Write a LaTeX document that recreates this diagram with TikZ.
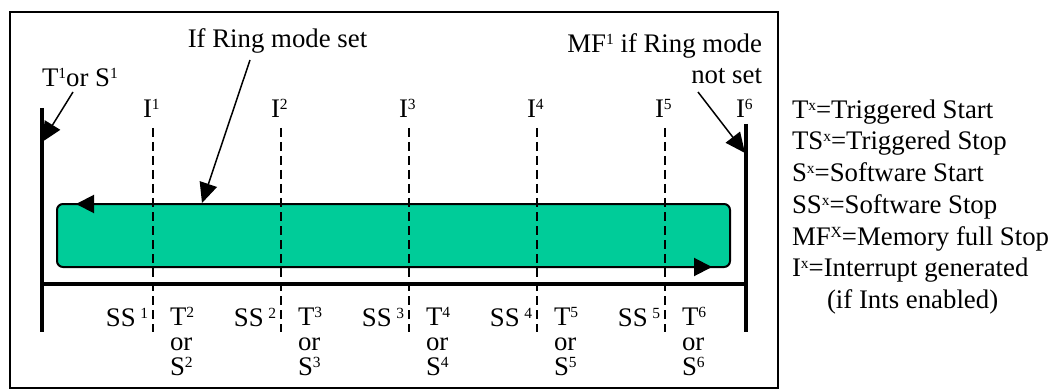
\documentclass[tikz,border=0pt]{standalone}
\usepackage{fontspec}
\setmainfont{Liberation Serif}
\usetikzlibrary{arrows.meta}
\definecolor{ringgreen}{RGB}{0,204,153}
\newcommand\SUP[1]{\raisebox{8pt}{\fontsize{15.5}{15.5}\selectfont #1}}
\begin{document}
\begin{tikzpicture}[x=1pt,y=-1pt,
  lbl/.style={inner sep=0pt, outer sep=0pt, font=\fontsize{26.8}{30}\selectfont},
  stack/.style={inner sep=0pt, outer sep=0pt, align=left, anchor=north west,
    font=\fontsize{26.8}{25}\selectfont},
  frame/.style={line width=2pt},
  bar/.style={line width=4pt},
  tick/.style={line width=2pt, dash pattern=on 9pt off 5pt},
  ptr/.style={line width=1.5pt, -{Triangle[length=20pt,width=18pt]}},
  looptip/.style={line width=2pt, -{Triangle[length=18pt,width=18pt]}},
  loopbox/.style={fill=ringgreen, draw=black, line width=2pt, rounded corners=6pt,
    inner sep=0pt, outer sep=0pt, anchor=north west}]
\useasboundingbox (0,0) rectangle (1054,390);
% outer frame
\draw[frame] (10,12) rectangle (778,388);
% ring buffer box
\node[loopbox, minimum width=673pt, minimum height=63pt] (ringbox) at (57,204) {};
\draw[looptip] (96,204) -- (76,204);
\draw[looptip] (690,267) -- (712,267);
% dashed interrupt lines, labels
\foreach \k/\x in {1/153,2/281,3/409,4/537,5/665}{
  \draw[tick] (\x,128) -- (\x,332);
  \node[lbl, anchor=base west] (i\k) at (\x-10,118) {I\SUP{\k}};
  \node[lbl, anchor=base east] (ss\k) at (\x-5,326) {SS\,\SUP{\k}};
  \pgfmathtruncatemacro\n{\k+1}
  \node[stack] (ts\n) at (\x+17,307.5) {T\SUP{\n}\\or\\S\SUP{\n}};
}
\node[lbl, anchor=base west] (i6) at (736,118) {I\SUP{6}};
% thick start/stop bars and time axis
\draw[bar] (42,108) -- (42,332);
\draw[bar] (746,124) -- (746,332);
\draw[bar] (42,284) -- (746,284);
% top labels and pointers
\node[lbl, anchor=base west] (start) at (42,87) {T\SUP{1}or S\SUP{1}};
\coordinate (startfrom) at (73,92);
\coordinate (starttip) at (42,142);
\draw[ptr] (startfrom) -- (starttip);
\node[lbl, anchor=base] (ring) at (277.5,48) {If Ring mode set};
\coordinate (ringfrom) at (250,60);
\coordinate (ringtip) at (202,203);
\draw[ptr] (ringfrom) -- (ringtip);
\node[lbl, anchor=base east] (mf) at (762,53) {MF\SUP{1} if Ring mode};
\node[lbl, anchor=base east] (notset) at (762,84) {not set};
\coordinate (mffrom) at (698,92);
\coordinate (mftip) at (745,153);
\draw[ptr] (mffrom) -- (mftip);
% legend
\node[lbl, anchor=base west] (lg1) at (792,119) {T\SUP{x}=Triggered Start};
\node[lbl, anchor=base west] (lg2) at (792,150) {TS\SUP{x}=Triggered Stop};
\node[lbl, anchor=base west] (lg3) at (792,182) {S\SUP{x}=Software Start};
\node[lbl, anchor=base west] (lg4) at (792,213) {SS\SUP{x}=Software Stop};
\node[lbl, anchor=base west] (lg5) at (792,245) {MF\SUP{X}=Memory full Stop};
\node[lbl, anchor=base west] (lg6) at (792,276) {I\SUP{x}=Interrupt generated};
\node[lbl, anchor=base west] (lg7) at (827,308) {(if Ints enabled)};
\end{tikzpicture}
\end{document}
